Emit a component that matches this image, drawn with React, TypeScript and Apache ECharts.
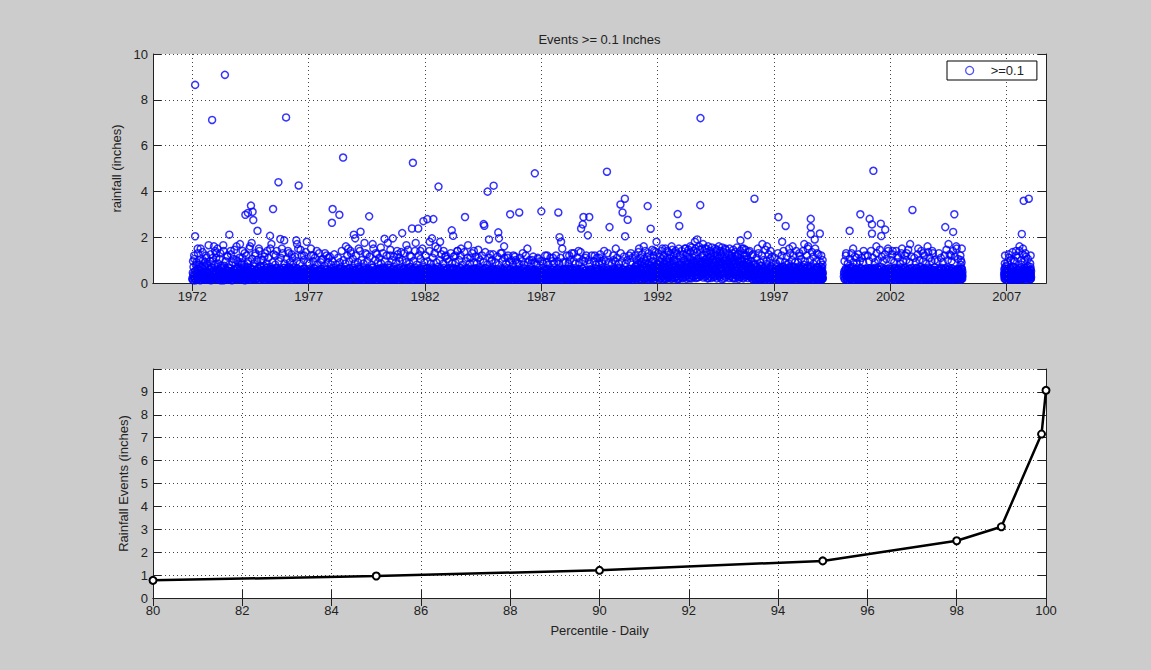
import React, { useEffect, useRef } from 'react';
import * as echarts from 'echarts';

const TITLE = 'Events >= 0.1 Inches';
const YEAR_TICKS = [1972, 1977, 1982, 1987, 1992, 1997, 2002, 2007];

// events per year: pairs of "position within year (hundredths)  rainfall (hundredths of inch)"
const EVENTS: Record<string, string> = {
  '1972': '0 20 2 45 4 12 5 70 7 30 9 105 11 18 12 865 12 204 14 55 16 25 18 90 20 40 22 15 24 130 26 60 28 22 30 35 32 80 34 12 36 150 38 45 40 28 42 65 44 18 46 100 48 38 50 22 52 75 54 14 56 50 58 120 60 32 62 20 64 85 66 42 68 15 70 165 72 58 74 26 76 95 78 35 80 12 82 68 85 712 86 30 88 110 90 48 92 20 94 78 96 36 98 140',
  '1973': '1 25 3 110 4 50 6 15 8 150 9 70 11 35 13 42 14 20 16 55 19 40 20 130 22 12 24 65 26 28 27 30 29 18 32 48 33 165 35 22 37 75 39 33 40 909 40 14 42 38 44 20 45 60 47 25 50 120 52 45 54 30 55 16 57 68 59 211 60 32 62 20 65 140 67 52 69 25 70 12 72 42 75 28 77 15 78 105 80 58 82 35 83 18 85 35 87 22 88 62 90 160 92 24 94 40 95 95 97 45 99 18',
  '1974': '1 40 3 22 4 60 5 170 7 15 9 45 11 28 12 80 14 35 15 110 17 18 19 55 21 30 23 70 25 130 26 12 28 298 28 48 30 25 32 62 34 16 36 40 38 85 39 306 40 22 42 52 44 32 45 150 47 14 49 66 51 28 52 338 53 40 55 175 56 20 58 58 59 311 60 35 62 275 62 16 64 48 66 26 68 72 70 120 71 38 73 18 75 55 77 30 79 44 80 228 81 20 83 62 85 34 87 15 88 140 89 50 91 26 93 68 95 38 96 100 98 20',
  '1975': '0 30 2 55 4 18 6 42 8 75 10 115 11 25 13 50 15 14 17 36 19 65 21 22 22 140 24 48 26 30 28 16 30 58 32 40 34 206 34 24 36 70 38 15 40 170 41 45 43 28 45 62 47 323 47 18 49 38 51 52 53 24 55 14 57 46 58 120 59 30 61 66 63 20 65 40 67 55 69 26 70 440 71 16 73 48 75 34 77 60 78 192 79 22 81 42 83 15 85 150 85 56 87 30 89 45 91 20 93 65 95 186 95 35 97 50 99 18',
  '1976': '0 45 2 24 3 723 4 60 6 35 8 16 10 52 12 28 14 70 15 130 16 20 18 44 20 32 22 62 24 14 26 40 28 55 30 110 30 24 32 36 34 68 36 18 38 46 40 30 42 58 44 22 46 15 47 186 48 42 50 170 50 26 52 64 54 35 56 18 57 426 58 50 60 28 62 40 64 15 65 145 66 56 68 32 70 22 72 48 74 16 76 38 78 62 80 120 80 25 82 44 84 30 86 18 88 55 90 36 92 180 92 22 94 48 96 28 98 15',
  '1977': '0 25 2 48 4 18 6 36 8 60 10 150 10 22 12 40 14 14 16 52 18 30 20 120 20 20 22 44 24 65 26 16 28 34 30 50 32 24 34 14 35 140 36 42 38 28 40 56 42 18 44 38 46 22 48 48 50 30 52 15 54 62 55 100 56 26 58 40 60 18 62 34 64 52 66 20 68 44 70 130 70 28 72 16 74 38 76 58 78 24 80 14 82 46 84 30 85 110 86 20 88 54 90 36 92 16 94 42 96 26 98 60',
  '1978': '0 263 1 30 3 323 3 52 5 18 7 40 9 66 11 24 13 45 15 14 17 35 19 58 21 22 23 42 25 30 27 16 29 62 31 36 32 298 33 20 35 48 37 28 39 70 41 15 43 44 45 26 47 55 48 548 49 18 51 38 53 60 55 24 57 14 59 48 60 160 61 32 63 20 65 56 67 40 69 16 70 150 71 46 73 28 75 64 77 22 79 38 80 140 81 15 83 50 85 30 87 20 89 66 91 36 93 18 94 211 95 45 97 26 99 55',
  '1979': '0 195 1 38 3 20 5 56 7 30 9 16 11 48 13 70 15 150 15 24 17 40 19 15 21 60 23 224 23 28 25 42 27 18 29 52 31 34 33 22 35 66 37 14 39 44 40 175 41 26 43 58 45 36 47 18 49 50 50 125 51 28 53 40 55 16 57 62 59 32 60 291 61 20 63 46 65 28 67 15 69 54 71 38 73 22 75 170 75 68 77 30 79 16 81 44 83 26 85 58 87 20 88 130 89 36 91 14 93 50 95 32 97 22 99 62',
  '1980': '0 26 2 50 4 16 6 38 8 64 10 155 10 22 12 44 14 30 16 15 18 56 20 34 22 20 24 68 26 193 26 28 28 46 30 16 32 38 34 60 36 24 38 14 40 175 40 52 42 32 44 20 46 44 48 66 50 120 50 26 52 16 54 40 56 58 58 30 60 18 62 195 62 48 64 24 66 70 68 36 70 15 72 52 74 28 76 42 78 18 80 140 80 62 82 34 84 22 86 48 88 14 90 110 90 38 92 56 94 26 96 44 98 18',
  '1981': '0 40 2 218 2 22 4 58 6 30 8 16 10 48 12 66 14 26 16 40 18 15 20 165 20 54 22 34 24 20 26 62 28 42 30 16 32 50 34 28 35 120 36 70 38 36 40 18 42 46 44 238 44 24 46 60 48 525 48 32 50 14 52 52 54 40 56 22 58 68 60 175 60 30 62 16 64 48 66 26 68 58 70 36 71 238 72 18 74 44 76 64 78 24 80 140 80 40 82 15 84 56 86 32 88 20 90 50 92 70 93 270 94 28 96 42 98 16',
  '1982': '0 35 2 56 4 20 6 44 8 14 10 279 10 66 12 30 14 48 16 18 18 60 20 180 20 26 22 40 24 16 26 54 28 34 30 195 30 22 32 68 34 42 36 279 36 15 38 50 40 28 42 62 44 20 45 160 46 38 48 16 50 56 52 32 54 24 56 70 58 421 58 40 60 18 62 52 64 28 65 180 66 44 68 15 70 60 72 36 74 22 76 48 78 16 80 140 80 66 82 30 84 42 86 20 88 54 90 120 90 26 92 38 94 16 96 62 98 34',
  '1983': '0 28 2 50 4 16 6 40 8 64 10 22 12 36 14 15 15 230 16 58 18 30 20 44 21 206 22 18 24 66 26 34 28 22 30 120 30 52 32 16 34 40 36 28 38 60 40 140 40 20 42 46 44 32 46 15 48 56 50 24 52 38 54 66 55 150 56 18 58 44 60 28 62 16 64 52 66 36 68 22 70 60 72 288 72 14 74 42 76 30 78 54 80 18 82 38 84 64 85 165 86 26 88 16 90 48 92 34 94 20 95 110 96 58 98 40',
  '1984': '0 44 2 20 4 60 6 32 8 16 10 140 10 50 12 28 14 40 16 18 18 64 20 34 22 22 24 48 26 15 28 56 30 110 30 30 32 42 34 20 36 68 38 36 40 16 42 52 44 26 46 40 48 18 50 60 52 257 52 32 54 14 55 250 56 46 58 24 60 66 62 38 64 16 66 50 68 28 69 399 70 42 72 20 74 62 75 190 76 34 78 15 80 125 80 48 82 26 84 56 86 36 88 100 88 18 90 44 92 30 94 60 95 425 96 22 98 40',
  '1985': '0 30 2 52 4 16 6 38 8 24 10 60 12 18 14 42 15 221 16 28 18 195 18 14 20 50 22 34 24 20 26 62 28 38 30 130 30 16 32 46 34 26 36 56 38 20 40 160 40 40 42 14 44 52 46 30 48 18 50 44 52 24 54 64 55 110 56 32 58 16 60 48 62 22 64 38 66 300 66 56 68 18 70 42 72 28 74 14 76 50 78 34 80 120 80 20 82 58 84 26 86 40 88 16 90 100 90 48 92 30 94 22 96 54 98 36',
  '1986': '0 24 2 46 4 14 5 308 6 36 8 58 10 20 12 40 14 28 16 15 18 52 20 130 20 32 22 18 24 44 26 24 28 62 30 36 32 16 34 48 36 28 38 20 40 150 40 54 42 38 44 14 46 42 48 26 50 60 52 18 54 34 56 46 58 22 60 100 60 38 62 14 64 52 66 30 68 20 70 44 72 479 72 26 74 56 76 16 78 36 80 48 82 22 84 30 85 110 86 58 88 18 90 40 92 26 94 14 96 50 98 34',
  '1987': '0 313 0 36 2 18 4 50 6 28 8 14 10 44 12 62 14 24 16 38 18 16 20 54 22 30 24 20 25 120 26 46 28 34 30 14 32 58 34 26 36 40 38 18 40 48 42 32 44 20 46 60 48 16 50 110 50 42 52 26 54 36 56 14 58 52 60 30 62 20 64 44 66 28 68 62 70 16 72 38 73 308 74 24 76 50 78 200 78 18 80 34 82 56 84 22 85 180 86 40 88 14 90 150 90 48 92 28 94 18 96 58 98 32',
  '1988': '0 42 2 20 4 56 6 30 8 16 10 48 12 36 14 22 16 60 18 14 20 120 20 40 22 26 24 52 26 18 28 34 30 64 32 24 34 14 36 46 38 30 40 130 40 20 42 56 44 36 46 16 48 44 50 28 52 62 54 18 56 38 58 24 60 140 60 50 62 14 64 32 66 58 68 22 70 40 71 238 72 16 74 48 76 26 78 256 78 62 80 30 81 288 82 18 84 44 86 34 88 20 90 110 90 54 92 26 94 14 96 46 98 36',
  '1989': '0 208 0 30 2 52 4 18 6 288 6 40 8 24 10 60 12 16 14 36 16 48 18 22 20 14 22 56 24 32 26 20 28 44 30 120 30 16 32 62 34 28 36 40 38 18 40 50 42 26 44 14 46 58 48 34 50 110 50 22 52 44 54 16 56 30 58 54 60 95 60 24 62 38 64 14 66 48 68 28 70 140 70 60 72 18 74 36 76 24 78 52 80 14 82 486 82 42 84 30 86 20 88 56 90 34 92 16 93 244 94 46 96 26 98 18',
  '1990': '0 36 2 16 4 54 6 28 8 20 10 100 10 46 12 14 14 62 16 32 18 22 20 150 20 42 22 18 24 56 26 30 28 14 30 48 32 26 34 64 36 20 38 38 40 343 40 16 42 52 44 30 46 22 48 44 49 308 50 14 52 60 54 36 56 18 58 48 59 368 60 204 60 26 62 40 64 14 66 56 68 32 70 20 71 276 72 46 74 24 76 62 78 16 80 38 82 28 84 50 85 130 86 20 88 42 90 14 92 58 94 34 96 22 98 48',
  '1991': '0 40 1 62 2 20 3 48 4 72 6 30 8 16 10 56 12 36 14 80 16 24 18 46 20 150 20 64 22 18 24 38 26 90 28 28 30 54 32 16 34 74 36 42 38 22 40 160 40 60 42 32 44 84 46 18 48 50 50 26 52 70 54 40 56 20 57 336 58 62 60 34 62 88 64 16 66 52 68 28 70 237 70 76 72 44 74 20 76 60 78 36 80 96 82 24 84 54 85 140 86 16 88 70 90 40 92 26 94 62 95 180 96 30 98 82',
  '1992': '0 50 2 26 4 78 6 16 8 60 10 36 12 92 14 22 16 48 18 70 20 150 20 30 22 56 24 16 26 84 28 40 30 24 32 66 34 46 36 100 38 18 40 140 40 58 42 34 44 76 46 22 48 52 50 90 52 28 54 64 56 40 58 18 60 160 60 80 62 46 64 26 66 70 68 34 70 96 72 20 74 56 75 130 76 42 78 74 80 28 82 60 84 16 86 301 86 88 88 38 90 54 92 22 93 249 94 78 95 120 96 44 98 66',
  '1993': '0 60 2 30 4 88 6 44 8 20 10 72 12 52 14 100 16 26 18 64 20 150 20 40 22 82 24 18 26 56 28 94 30 34 32 70 34 48 36 24 38 110 40 160 40 62 42 36 44 86 46 20 48 54 50 76 52 42 54 98 56 28 58 66 60 180 60 46 62 90 64 22 66 58 68 80 70 190 70 36 72 104 74 50 76 26 78 72 80 60 82 92 83 340 84 720 84 30 86 56 88 84 90 40 92 120 94 66 95 170 96 24 98 78',
  '1994': '0 46 2 90 4 28 6 66 8 104 10 150 10 38 12 80 14 20 16 58 18 96 20 44 22 70 24 30 26 112 28 54 30 130 30 22 32 84 34 40 36 64 38 100 40 26 42 76 44 50 46 118 48 34 50 140 50 62 52 92 54 20 56 72 58 46 60 106 62 30 64 82 66 56 68 24 70 120 70 94 72 40 74 68 76 16 78 88 80 52 82 110 84 32 86 74 88 44 90 150 90 98 92 26 94 62 96 84 98 40',
  '1995': '0 70 2 36 4 96 6 54 8 22 10 82 12 44 14 108 16 30 18 66 20 130 20 90 22 48 24 24 26 76 28 100 30 40 32 60 34 20 36 86 38 50 40 120 40 30 42 72 44 94 46 36 48 18 50 64 52 88 54 42 56 186 56 26 58 74 60 52 62 98 64 32 66 60 68 20 70 150 70 80 72 44 74 104 76 28 78 56 80 70 82 36 84 92 86 48 87 209 88 22 90 66 92 40 94 84 95 140 96 30 98 58',
  '1996': '0 44 2 24 4 66 5 120 6 36 8 16 10 56 12 30 14 78 16 368 16 20 18 48 20 34 22 60 24 18 26 42 28 70 30 150 30 26 32 50 34 14 36 38 38 62 40 22 42 46 44 30 46 74 48 16 50 170 50 54 52 34 54 22 56 64 58 40 60 18 62 52 64 28 66 72 68 36 70 160 70 20 72 48 74 26 76 58 78 14 80 44 82 32 84 66 85 140 86 20 88 50 90 30 92 16 94 60 96 38 98 24',
  '1997': '0 52 2 28 4 16 6 62 8 36 10 20 12 48 14 70 16 30 18 14 19 288 20 56 22 38 24 22 26 66 28 44 30 18 32 58 34 26 35 180 36 40 38 72 40 16 42 50 44 32 46 20 48 64 50 249 50 36 52 14 54 54 56 28 58 42 60 18 62 68 64 34 65 150 66 22 68 48 70 60 72 16 74 40 76 26 78 56 80 160 80 30 82 18 84 46 86 70 88 24 90 38 92 14 94 52 95 140 96 32 98 20',
  '1998': '0 28 2 54 4 18 6 40 8 66 10 120 10 24 12 46 14 32 16 16 18 58 20 36 22 20 24 70 26 30 28 44 30 170 30 18 32 62 34 26 36 50 38 14 40 38 42 66 44 22 45 150 46 48 48 30 50 16 52 60 54 40 56 24 58 280 58 244 58 214 58 72 60 34 62 18 64 52 66 28 68 44 70 14 72 62 74 36 75 190 76 20 78 54 80 30 82 46 84 16 85 130 86 68 88 38 90 22 92 56 94 28 96 44 97 216 98 18',
  '1999': '0 40 1 22 2 60 3 120 4 15 5 35 6 50 7 25 8 80 9 18 10 45 1 90 4 30 7 65',
  '2000': '0 28 2 50 4 16 6 38 8 62 10 130 10 22 12 44 14 30 16 14 18 56 20 34 22 20 24 66 25 228 26 26 28 42 30 16 32 54 34 36 36 20 38 70 40 150 40 28 42 14 44 48 46 32 48 58 50 18 52 40 54 24 55 110 56 62 58 30 60 16 62 46 64 26 66 54 68 20 70 38 71 300 72 14 74 60 76 32 78 22 80 44 82 16 84 56 85 140 86 28 88 40 90 20 92 62 94 34 96 16 98 48',
  '2001': '0 36 2 18 4 54 6 30 8 64 10 22 11 280 12 44 14 16 16 58 18 32 20 20 21 256 21 216 22 48 24 26 26 62 27 490 28 14 30 40 32 56 34 24 36 36 38 16 40 160 40 50 42 30 44 66 46 20 48 42 50 14 52 58 54 34 56 22 58 48 59 259 60 26 61 205 62 62 64 18 66 40 68 30 70 54 72 16 74 44 76 28 78 233 78 60 80 20 82 38 84 14 86 52 88 32 90 150 90 22 92 46 94 64 96 18 98 36',
  '2002': '0 44 2 22 4 60 6 16 8 38 10 140 10 52 12 28 14 18 16 46 18 66 20 30 22 14 24 54 26 36 28 20 30 120 30 62 32 26 34 44 36 16 38 56 40 32 42 22 44 48 46 68 48 14 50 150 50 40 52 28 54 58 56 18 58 36 60 50 62 24 64 64 66 16 68 42 70 130 70 30 72 56 74 20 76 38 78 14 80 60 82 34 84 22 85 170 86 48 88 18 90 40 92 66 94 26 95 319 96 16 98 52',
  '2003': '0 30 2 56 4 20 6 42 8 14 10 64 12 34 14 24 16 50 18 16 20 150 20 38 22 60 24 28 26 18 28 46 30 70 32 22 34 40 36 14 38 54 40 130 40 32 42 20 44 62 46 36 48 16 50 48 52 26 54 58 56 18 58 40 60 160 60 30 62 66 64 20 66 44 68 14 70 52 72 34 74 24 76 60 78 16 80 140 80 42 82 28 84 56 86 20 88 36 90 68 92 14 94 46 96 30 98 22',
  '2004': '0 48 2 26 4 16 6 60 8 36 10 20 12 54 14 30 16 14 18 44 20 66 22 24 24 38 26 16 28 58 30 32 32 20 34 48 36 244 36 14 38 62 40 28 42 40 44 18 46 56 48 34 50 170 50 22 52 46 54 64 56 16 58 38 60 120 60 28 62 52 64 20 66 42 68 14 70 223 70 60 72 32 74 24 75 300 76 48 78 18 80 56 82 36 84 22 85 150 86 44 88 16 90 62 92 30 94 20 96 50 98 38',
  '2005': '0 30 1 55 2 15 3 100 4 40 5 22 6 65 7 150 8 35 9 18 10 48 2 80 5 28 8 60',
  '2006': '89 35 90 60 91 18 92 45 93 120 94 28 95 70 96 40 97 15 98 55 99 25 92 85 96 30',
  '2007': '0 40 2 22 4 60 6 14 8 36 10 110 10 52 12 28 14 18 16 66 18 40 20 24 22 56 24 16 26 44 28 70 30 100 30 30 32 20 34 50 36 36 38 14 40 140 40 62 42 26 44 44 46 18 48 58 50 32 52 20 54 48 55 160 56 16 58 66 60 34 62 24 64 52 65 214 66 18 68 40 70 150 70 60 72 28 73 359 74 44 76 16 78 56 80 130 80 34 82 22 84 48 86 68 88 20 90 38 92 54 94 26 95 368 96 44 98 18',
  '2008': '0 30 1 55 2 16 3 120 4 40 5 25 1 85 3 60',
};

// further small events per year (same encoding)
const EVENTS_SMALL: Record<string, string> = {
  '1972': '1 15 4 35 7 22 10 50 13 12 16 40 19 28 22 62 25 18 28 45 31 30 34 14 37 55 40 25 43 38 46 16 49 48 52 20 55 68 58 32 61 14 64 52 67 24 70 42 73 15 76 60 79 30 82 20 85 44 88 16 91 56 94 26 97 38',
  '1973': '1 42 4 18 7 60 10 28 13 14 16 50 19 34 22 20 25 66 28 26 31 44 34 12 37 36 40 58 43 22 46 40 49 15 52 54 55 30 58 18 61 64 64 38 67 24 70 48 73 14 76 34 79 56 82 20 85 42 88 28 91 16 94 62 97 32',
  '1974': '1 26 4 56 7 16 10 38 13 64 16 22 19 46 22 14 25 32 28 58 31 20 34 42 37 70 40 16 43 36 46 52 49 24 52 14 55 62 58 34 61 20 64 48 67 28 70 16 73 54 76 38 79 22 82 66 85 30 88 14 91 44 94 24 97 56',
  '1975': '1 48 4 24 7 14 10 58 13 36 16 20 19 44 22 68 25 28 28 16 31 52 34 34 37 22 40 60 43 14 46 40 49 26 52 56 55 18 58 36 61 62 64 24 67 14 70 46 73 30 76 20 79 58 82 40 85 16 88 50 91 28 94 66 97 18',
  '1976': '1 30 4 14 7 52 10 24 13 66 16 38 19 18 22 46 25 28 28 60 31 14 34 40 37 22 40 54 43 32 46 16 49 64 52 26 55 42 58 14 61 50 64 34 67 20 70 58 73 28 76 16 79 44 82 62 85 24 88 36 91 14 94 52 97 30',
  '1977': '1 40 4 16 7 28 10 54 13 20 16 36 19 14 22 48 25 26 28 62 31 18 34 42 37 30 40 14 43 56 46 24 49 38 52 16 55 50 58 28 61 20 64 44 67 14 70 60 73 32 76 22 79 46 82 16 85 36 88 54 91 24 94 14 97 42',
  '1978': '1 22 4 48 7 32 10 16 13 58 16 26 19 40 22 14 25 52 28 30 31 20 34 64 37 36 40 18 43 46 46 26 49 14 52 56 55 34 58 22 61 42 64 16 67 62 70 28 73 38 76 14 79 50 82 24 85 32 88 18 91 58 94 40 97 20',
  '1979': '1 54 4 26 7 14 10 42 13 30 16 64 19 20 22 36 25 16 28 50 31 28 34 14 37 60 40 38 43 22 46 46 49 16 52 32 55 56 58 24 61 14 64 44 67 34 70 20 73 66 76 28 79 16 82 48 85 38 88 22 91 14 94 54 97 30',
  '1980': '1 34 4 58 7 20 10 14 13 46 16 30 19 62 22 24 25 40 28 16 31 54 34 28 37 14 40 44 43 66 46 22 49 36 52 18 55 48 58 14 61 60 64 32 67 22 70 40 73 16 76 56 79 26 82 14 85 44 88 30 91 64 94 20 97 36',
  '1981': '1 18 4 44 7 30 10 62 13 22 16 14 19 52 22 36 25 20 28 66 31 28 34 46 37 16 40 34 43 56 46 14 49 40 52 24 55 60 58 30 61 16 64 50 67 38 70 20 73 14 76 58 79 32 82 24 85 46 88 16 91 36 94 62 97 22',
  '1982': '1 50 4 22 7 64 10 30 13 16 16 44 19 26 22 56 25 14 28 38 31 62 34 20 37 34 40 48 43 16 46 58 49 28 52 40 55 14 58 52 61 26 64 36 67 64 70 18 73 44 76 30 79 14 82 54 85 24 88 40 91 18 94 60 97 32',
  '1983': '1 24 4 40 7 14 10 56 13 34 16 20 19 62 22 28 25 46 28 16 31 36 34 58 37 22 40 14 43 50 46 32 49 18 52 64 55 26 58 42 61 14 64 56 67 30 70 20 73 48 76 16 79 38 82 62 85 22 88 34 91 14 94 50 97 26',
  '1984': '1 58 4 28 7 16 10 40 13 62 16 24 19 14 22 50 25 34 28 20 31 60 34 30 37 16 40 46 43 26 46 14 49 56 52 36 55 22 58 64 61 18 64 42 67 28 70 14 73 52 76 32 79 20 82 44 85 60 88 16 91 38 94 24 97 54',
  '1985': '1 36 4 14 7 48 10 22 13 30 16 56 19 18 22 40 25 14 28 52 31 26 34 36 37 60 40 16 43 44 46 22 49 32 52 14 55 54 58 28 61 42 64 18 67 62 70 24 73 36 76 14 79 48 82 30 85 20 88 56 91 16 94 40 97 26',
  '1986': '1 20 4 52 7 30 10 14 13 42 16 24 19 60 22 18 25 36 28 48 31 14 34 28 37 56 40 20 43 38 46 16 49 50 52 26 55 14 58 44 61 32 64 58 67 20 70 14 73 40 76 28 79 54 82 16 85 34 88 46 91 22 94 14 97 48',
  '1987': '1 44 4 26 7 16 10 56 13 32 16 14 19 42 22 22 25 62 28 30 31 18 34 48 37 14 40 36 43 58 46 24 49 16 52 44 55 30 58 20 61 54 64 14 67 38 70 26 73 60 76 18 79 42 82 28 85 14 88 50 91 34 94 22 97 58',
  '1988': '1 28 4 54 7 18 10 36 13 14 16 48 19 26 22 62 25 20 28 40 31 14 34 56 37 32 40 22 43 16 46 46 49 34 52 58 55 20 58 14 61 44 64 28 67 52 70 18 73 36 76 64 79 24 82 14 85 42 88 30 91 56 94 20 97 38',
  '1989': '1 46 4 20 7 34 10 14 13 58 16 30 19 18 22 44 25 26 28 14 31 54 34 36 37 20 40 62 43 28 46 16 49 42 52 22 55 14 58 50 61 34 64 60 67 18 70 30 73 14 76 46 79 24 82 56 85 36 88 16 91 44 94 26 97 52',
  '1990': '1 26 4 44 7 60 10 18 13 36 16 14 19 52 22 28 25 42 28 20 31 64 34 16 37 34 40 50 43 24 46 14 49 58 52 30 55 20 58 46 61 16 64 38 67 56 70 26 73 14 76 48 79 32 82 62 85 18 88 28 91 54 94 14 97 40',
  '1991': '1 58 4 30 7 76 10 22 13 50 16 86 19 36 22 16 25 64 28 44 31 92 34 26 37 56 40 18 43 70 46 38 49 96 52 24 55 60 58 14 61 80 64 46 67 28 70 66 73 20 76 90 79 52 82 32 85 74 88 16 91 58 94 40 97 84',
  '1992': '1 64 4 36 7 96 10 20 13 72 16 46 19 104 22 28 25 58 28 84 31 18 34 66 37 40 40 92 43 26 46 74 49 50 52 108 55 32 58 62 61 20 64 86 67 44 70 100 73 24 76 68 79 52 82 94 85 30 88 60 91 16 94 82 97 48',
  '1993': '1 80 4 24 7 58 10 106 13 38 16 70 19 92 22 30 25 62 28 114 31 44 34 84 37 20 40 72 43 100 46 50 49 30 52 88 55 64 58 118 61 36 64 78 67 96 70 24 73 66 76 108 79 46 82 82 85 34 88 94 91 56 94 112 97 40',
  '1994': '1 100 4 56 7 84 10 32 13 112 16 66 19 22 22 92 25 48 28 118 31 74 34 36 37 104 40 60 43 86 46 28 49 96 52 52 55 122 58 40 61 78 64 108 67 34 70 88 73 64 76 116 79 42 82 98 85 20 88 82 91 56 94 110 97 70',
  '1995': '1 52 4 90 7 30 10 72 13 112 16 40 19 64 22 98 25 20 28 84 31 56 34 116 37 34 40 70 43 100 46 46 49 26 52 80 55 108 58 38 61 62 64 94 67 24 70 76 73 118 76 50 79 36 82 88 85 60 88 102 91 30 94 74 97 44',
  '1996': '1 30 4 62 7 18 10 46 13 80 16 26 19 54 22 14 25 70 28 36 31 22 34 58 37 44 40 16 43 76 46 32 49 50 52 20 55 66 58 28 61 14 64 56 67 40 70 84 73 24 76 48 79 16 82 62 85 34 88 72 91 22 94 42 97 18',
  '1997': '1 40 4 20 7 58 10 32 13 76 16 16 19 46 22 62 25 26 28 14 31 52 34 36 37 70 40 22 43 44 46 60 49 18 52 30 55 80 58 24 61 50 64 14 67 64 70 38 73 22 76 72 79 46 82 16 85 56 88 30 91 66 94 20 97 42',
  '1998': '1 56 4 26 7 72 10 16 13 44 16 64 19 30 22 14 25 54 28 80 31 22 34 40 37 62 40 28 43 16 46 76 49 38 52 50 55 20 58 68 61 32 64 14 67 48 70 84 73 26 76 60 79 18 82 42 85 70 88 30 91 14 94 58 97 36',
  '1999': '0 50 2 28 4 70 6 16 8 38 10 22 3 55 9 100',
  '2000': '1 42 4 18 7 56 10 30 13 14 16 62 19 36 22 22 25 48 28 16 31 68 34 28 37 40 40 14 43 54 46 24 49 36 52 60 55 18 58 44 61 26 64 14 67 50 70 32 73 66 76 20 79 38 82 14 85 56 88 28 91 46 94 18 97 60',
  '2001': '1 26 4 50 7 14 10 38 13 62 16 22 19 44 22 16 25 56 28 32 31 20 34 66 37 28 40 14 43 46 46 36 49 58 52 18 55 40 58 24 61 70 64 30 67 14 70 48 73 22 76 58 79 36 82 16 85 44 88 62 91 26 94 14 97 52',
  '2002': '1 58 4 32 7 16 10 46 13 24 16 64 19 14 22 40 25 28 28 54 31 18 34 36 37 62 40 22 43 14 46 50 49 30 52 42 55 16 58 66 61 26 64 38 67 14 70 56 73 34 76 20 79 46 82 64 85 16 88 30 91 52 94 22 97 40',
  '2003': '1 36 4 14 7 48 10 26 13 66 16 34 19 16 22 52 25 22 28 40 31 14 34 60 37 30 40 46 43 18 46 36 49 64 52 24 55 14 58 54 61 32 64 20 67 44 70 62 73 16 76 38 79 28 82 50 85 14 88 58 91 34 94 20 97 46',
  '2004': '1 24 4 56 7 34 10 14 13 44 16 26 19 62 22 18 25 40 28 52 31 14 34 32 37 66 40 20 43 48 46 36 49 14 52 58 55 28 58 42 61 16 64 64 67 30 70 46 73 22 76 14 79 54 82 38 85 18 88 44 91 60 94 26 97 36',
  '2005': '0 45 2 25 4 62 6 18 8 40 10 30 1 120 6 90',
  '2006': '90 45 91 25 93 62 94 18 96 50 97 32 98 75 99 40',
  '2007': '1 30 4 58 7 20 10 44 13 14 16 62 19 34 22 22 25 50 28 16 31 70 34 28 37 42 40 18 43 56 46 36 49 14 52 64 55 26 58 46 61 18 64 80 67 32 70 52 73 20 76 66 79 40 82 14 85 56 88 30 91 74 94 24 97 48',
  '2008': '0 45 1 25 2 70 3 35 4 18 5 52',
};

// medium-sized events per year (same encoding)
const EVENTS_MID: Record<string, string> = {
  '1972': '3 95 8 120 17 80 23 150 29 100 35 70 44 135 53 90 61 110 69 75 78 125 87 95 93 160',
  '1973': '2 130 10 85 18 105 26 75 34 140 43 95 51 115 58 80 66 125 74 90 81 145 89 100 96 70',
  '1974': '2 110 9 90 16 140 24 80 33 120 41 95 48 160 57 105 65 85 72 130 79 100 86 150 94 75',
  '1975': '3 100 12 130 20 85 27 110 35 150 44 90 50 125 56 80 63 140 72 95 80 110 88 130 96 85',
  '1976': '5 105 11 140 19 90 27 125 33 80 41 115 49 95 55 150 62 85 71 120 79 100 87 135 95 90',
  '1977': '3 85 11 120 19 95 27 110 37 80 45 130 53 90 61 105 69 75 77 120 84 90 91 115 97 80',
  '1978': '2 95 10 125 18 80 26 110 34 90 42 140 50 100 58 85 66 120 74 95 82 130 90 105 98 85',
  '1979': '4 120 12 90 20 140 28 100 36 85 44 130 52 95 62 115 70 80 78 150 86 100 94 125 98 90',
  '1980': '3 110 11 85 19 130 27 95 35 120 43 80 51 145 59 100 67 115 75 90 83 125 91 95 97 135',
  '1981': '3 100 11 130 19 90 27 145 33 85 41 115 51 95 57 140 65 80 73 120 81 105 89 150 97 90',
  '1982': '3 120 11 95 19 140 25 85 33 110 41 130 49 90 55 150 63 100 71 125 79 85 87 115 95 105',
  '1983': '3 95 11 130 17 85 23 115 31 90 39 140 47 100 53 120 61 80 69 135 77 95 83 110 93 85',
  '1984': '3 130 11 90 17 115 23 85 29 145 37 100 45 120 51 90 59 135 67 80 77 110 85 95 93 125',
  '1985': '3 90 11 115 17 80 25 130 33 95 41 110 49 85 57 120 63 90 71 100 79 80 87 115 95 90',
  '1986': '3 85 9 110 17 95 25 80 33 120 41 90 49 100 57 85 65 115 71 90 79 80 87 105 95 95',
  '1987': '3 95 9 85 17 120 23 90 31 80 39 110 47 95 55 85 63 120 69 95 77 85 83 110 93 90',
  '1988': '3 90 9 120 17 85 23 100 31 130 39 95 47 85 55 110 63 90 69 135 77 100 85 95 93 120',
  '1989': '3 100 9 85 17 120 25 95 33 80 39 110 47 90 53 125 61 85 69 100 77 95 85 130 91 90',
  '1990': '3 85 9 120 17 95 25 110 33 85 41 130 47 95 55 115 63 85 69 100 77 120 83 90 91 110',
  '1991': '3 120 9 100 17 135 25 110 33 125 41 105 47 140 55 115 61 130 69 110 77 145 83 120 91 135',
  '1992': '3 130 9 115 17 140 25 120 33 150 41 110 47 135 55 125 63 145 69 120 77 140 83 130 91 150',
  '1993': '3 140 9 125 17 150 25 130 33 145 41 135 47 155 55 140 63 150 69 135 77 160 81 145 91 150',
  '1994': '3 150 9 135 17 160 25 140 33 155 41 130 47 150 55 145 63 160 69 140 77 155 83 135 93 145',
  '1995': '3 130 9 150 17 120 25 145 33 135 41 155 47 125 55 140 63 150 69 130 77 145 83 120 91 135',
  '1996': '3 95 9 125 17 85 25 110 33 130 41 90 47 120 55 100 63 145 69 95 77 125 83 105 91 115',
  '1997': '3 110 9 85 17 130 25 95 33 120 41 140 47 90 55 115 63 85 69 130 77 100 83 120 91 90',
  '1998': '3 90 9 130 17 105 25 140 33 95 41 120 47 160 55 100 63 135 69 115 77 150 83 95 91 125',
  '2000': '3 95 9 120 17 85 25 105 33 130 41 90 47 115 55 85 63 125 69 95 77 110 83 90 91 120',
  '2001': '3 120 9 95 17 140 25 110 33 90 41 130 47 100 55 145 63 115 69 95 77 125 83 105 91 140',
  '2002': '3 100 9 125 17 90 25 140 33 110 41 85 47 130 55 95 63 120 69 100 77 145 83 90 91 115',
  '2003': '3 110 9 90 17 125 25 100 33 140 41 95 47 120 55 85 63 135 69 110 77 95 83 130 91 100',
  '2004': '3 95 9 130 17 110 25 90 33 120 41 145 47 100 55 125 63 95 69 140 77 115 83 160 91 105',
  '2007': '3 90 9 125 17 100 25 135 33 95 41 120 47 110 55 140 63 100 69 125 77 95 83 115 91 105',
};

const PERCENTILES = [80, 85, 90, 95, 98, 99, 99.9, 100];
const PCT_RAIN = [0.77, 0.96, 1.21, 1.62, 2.5, 3.11, 7.16, 9.07];

function eventPoints(): number[][] {
  const out: number[][] = [];
  [EVENTS_MID, EVENTS_SMALL, EVENTS].forEach((src) => {
    Object.keys(src).forEach((y) => {
      const t = src[y].trim().split(/\s+/).map(Number);
      for (let i = 0; i + 1 < t.length; i += 2) out.push([Number(y) + t[i] / 100, t[i + 1] / 100]);
    });
  });
  return out;
}

const FONT = 'Arial, "Liberation Sans", sans-serif';
const TXT = '#222';
const AX = '#222';
const GRIDLINE = { type: [1, 3] as any, color: '#444', width: 1 };

export default function App() {
  const ref = useRef<HTMLDivElement>(null);
  useEffect(() => {
    document.body.style.margin = '0';
    const chart = echarts.init(ref.current!, null, { renderer: 'svg' });
    const tickIn = { show: true, inside: true, length: 8, lineStyle: { color: AX } };
    const axLine = { show: true, lineStyle: { color: AX, width: 1 } };
    const lbl = { color: TXT, fontSize: 13, fontFamily: FONT };
    const topX0 = 1970.31, topX1 = 2008.69;
    chart.setOption({
      animation: false,
      backgroundColor: '#cccccc',
      textStyle: { fontFamily: FONT },
      graphic: [
        { type: 'text', x: 599.5, y: 39, style: { text: TITLE, align: 'center', verticalAlign: 'middle', fontSize: 13, fontFamily: FONT, fill: TXT } },
      ],
      legend: {
        left: 947, top: 61,
        data: [{ name: '>=0.1', icon: 'circle', itemStyle: { color: 'rgba(0,0,0,0)', borderColor: '#2020ff', borderWidth: 1.3 } }],
        backgroundColor: '#fff', borderColor: '#000', borderWidth: 1, borderRadius: 0,
        padding: [3, 13, 3, 18], itemWidth: 8, itemHeight: 8,
        textStyle: { color: TXT, fontSize: 13, fontFamily: FONT, padding: [0, 0, 0, 12] },
      },
      grid: [
        { left: 153, top: 54, width: 893, height: 229, backgroundColor: '#fff', show: true, borderWidth: 0 },
        { left: 153, top: 369, width: 893, height: 229, backgroundColor: '#fff', show: true, borderWidth: 0 },
      ],
      xAxis: [
        {
          gridIndex: 0, type: 'value', min: topX0, max: topX1, position: 'bottom',
          axisLine: axLine,
          axisTick: { ...tickIn, customValues: YEAR_TICKS },
          axisLabel: { ...lbl, margin: 7, customValues: YEAR_TICKS, formatter: (v: number) => String(Math.round(v)) },
          splitLine: { show: false },
        },
        {
          gridIndex: 0, type: 'value', min: topX0, max: topX1, position: 'top',
          axisLine: axLine,
          axisTick: { ...tickIn, customValues: YEAR_TICKS },
          axisLabel: { show: false },
          splitLine: { show: false },
        },
        {
          gridIndex: 1, type: 'value', min: 80, max: 100, interval: 2, position: 'bottom',
          name: 'Percentile - Daily', nameLocation: 'middle', nameGap: 26,
          nameTextStyle: { color: TXT, fontSize: 13, fontFamily: FONT },
          axisLine: axLine, axisTick: tickIn,
          axisLabel: { ...lbl, margin: 6 },
          splitLine: { show: true, lineStyle: GRIDLINE },
        },
        {
          gridIndex: 1, type: 'value', min: 80, max: 100, interval: 2, position: 'top',
          axisLine: axLine, axisTick: tickIn, axisLabel: { show: false }, splitLine: { show: false },
        },
      ],
      yAxis: [
        {
          gridIndex: 0, type: 'value', min: 0, max: 10, interval: 2, position: 'left',
          name: 'rainfall (inches)', nameLocation: 'middle', nameGap: 20,
          nameTextStyle: { color: TXT, fontSize: 13, fontFamily: FONT },
          axisLine: axLine, axisTick: tickIn,
          axisLabel: { ...lbl, margin: 5 },
          splitLine: { show: true, lineStyle: GRIDLINE },
        },
        {
          gridIndex: 0, type: 'value', min: 0, max: 10, interval: 2, position: 'right',
          axisLine: axLine, axisTick: tickIn, axisLabel: { show: false }, splitLine: { show: false },
        },
        {
          gridIndex: 1, type: 'value', min: 0, max: 10, interval: 1, position: 'left',
          name: 'Rainfall Events (inches)', nameLocation: 'middle', nameGap: 11,
          nameTextStyle: { color: TXT, fontSize: 13, fontFamily: FONT },
          axisLine: axLine, axisTick: tickIn,
          axisLabel: { ...lbl, margin: 5, formatter: (v: number) => (v >= 10 ? '' : String(v)) },
          splitLine: { show: true, lineStyle: GRIDLINE },
        },
        {
          gridIndex: 1, type: 'value', min: 0, max: 10, interval: 1, position: 'right',
          axisLine: axLine, axisTick: tickIn, axisLabel: { show: false }, splitLine: { show: false },
        },
      ],
      series: [
        {
          name: '>=0.1', type: 'scatter', xAxisIndex: 0, yAxisIndex: 0,
          data: eventPoints(), symbol: 'circle', symbolSize: 7,
          itemStyle: { color: 'rgba(0,0,0,0)', borderColor: '#0000ff', borderWidth: 1.5 },
          markLine: {
            silent: true, symbol: ['none', 'none'], label: { show: false },
            lineStyle: GRIDLINE, emphasis: { disabled: true },
            data: YEAR_TICKS.map((v) => ({ xAxis: v })),
            z: 0,
          },
          z: 3,
        },
        {
          name: 'percentile', type: 'line', xAxisIndex: 2, yAxisIndex: 2,
          data: PERCENTILES.map((p, i) => [p, PCT_RAIN[i]]),
          symbol: 'emptyCircle', symbolSize: 7,
          lineStyle: { color: '#000', width: 2.5 },
          itemStyle: { color: '#000', borderColor: '#000', borderWidth: 2 },
        },
      ],
    });
    return () => chart.dispose();
  }, []);
  return <div ref={ref} style={{ width: 1151, height: 670 }} />;
}
